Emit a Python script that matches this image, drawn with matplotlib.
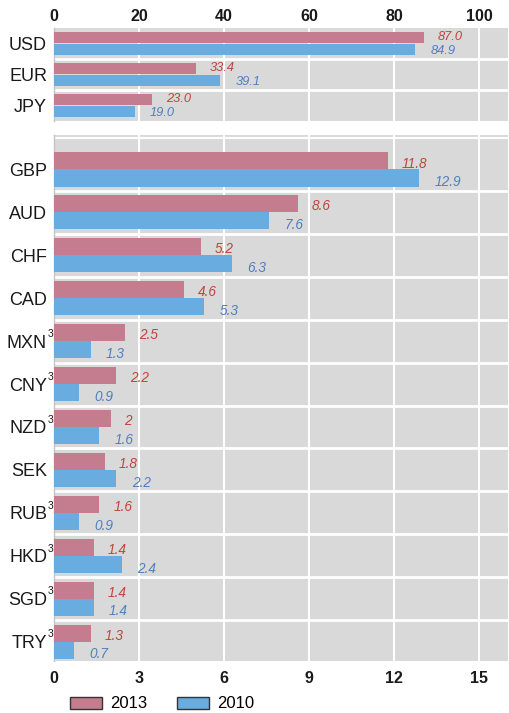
import matplotlib.pyplot as plt
import matplotlib.transforms as mtransforms

plt.rcParams['font.family'] = ['Liberation Sans', 'DejaVu Sans']

# major currencies (top panel)
top_cur = ['USD', 'EUR', 'JPY']
top_2013 = [87.0, 33.4, 23.0]
top_2010 = [84.9, 39.1, 19.0]
top_lab13 = ['87.0', '33.4', '23.0']
top_lab10 = ['84.9', '39.1', '19.0']

# other currencies (bottom panel)
bot_cur = ['GBP', 'AUD', 'CHF', 'CAD', 'MXN', 'CNY', 'NZD', 'SEK', 'RUB', 'HKD', 'SGD', 'TRY']
bot_2013 = [11.8, 8.6, 5.2, 4.6, 2.5, 2.2, 2, 1.8, 1.6, 1.4, 1.4, 1.3]
bot_2010 = [12.9, 7.6, 6.3, 5.3, 1.3, 0.9, 1.6, 2.2, 0.9, 2.4, 1.4, 0.7]
bot_lab13 = ['11.8', '8.6', '5.2', '4.6', '2.5', '2.2', '2', '1.8', '1.6', '1.4', '1.4', '1.3']
bot_lab10 = ['12.9', '7.6', '6.3', '5.3', '1.3', '0.9', '1.6', '2.2', '0.9', '2.4', '1.4', '0.7']
footnote = ['', '', '', '', '3', '3', '3', '', '3', '3', '3', '3']

top_ticks = [0, 20, 40, 60, 80, 100]
bot_ticks = [0, 3, 6, 9, 12, 15]

c13 = '#c47d8e'
c10 = '#69ace0'
t13 = '#c0443c'
t10 = '#4f7fbf'
bg = '#d9d9d9'

fig = plt.figure(figsize=(5.09, 7.13), dpi=100)
W, H = 509, 713
left, right = 54, 508


def make_ax(ytop, ybot):
    return fig.add_axes([left / W, (H - ybot) / H, (right - left) / W, (ybot - ytop) / H])


ax1 = make_ax(28, 121)
ax2 = make_ax(135, 661)


def draw(ax, cats, v13, v10, l13, l10, bh, off, xmax, ticks, ylim, dy13, dy10, fs):
    ax.set_facecolor(bg)
    ys = list(range(len(cats)))
    ax.barh([y - off for y in ys], v13, height=bh, color=c13, zorder=3)
    ax.barh([y + off for y in ys], v10, height=bh, color=c10, zorder=3)
    for y, a, b, la, lb in zip(ys, v13, v10, l13, l10):
        ax.annotate(la, (a, y - off), xytext=(10, dy13), textcoords='offset points',
                    ha='left', va='center', fontsize=fs, style='italic', color=t13, zorder=4)
        ax.annotate(lb, (b, y + off), xytext=(11, dy10), textcoords='offset points',
                    ha='left', va='center', fontsize=fs, style='italic', color=t10, zorder=4)
    ax.set_xlim(0, xmax)
    ax.set_ylim(*ylim)
    ax.set_xticks(ticks)
    ax.set_yticks(ys)
    ax.set_yticklabels(cats, fontsize=13, color='#1a1a1a')
    ax.tick_params(axis='y', length=0, pad=5)
    ax.grid(axis='x', color='white', linewidth=1.5, zorder=1)
    for k in range(len(cats) - 1):
        ax.axhline(k + 0.5, color='white', linewidth=2, zorder=2)
    for s in ['top', 'right', 'bottom']:
        ax.spines[s].set_visible(False)
    ax.spines['left'].set_color('#c4c4c4')
    ax.spines['left'].set_linewidth(1)


draw(ax1, top_cur, top_2013, top_2010, top_lab13, top_lab10, 0.37, 0.19, 106.8, top_ticks,
     (2.5, -0.5), 0.5, -1.5, 9.3)
ax1.xaxis.tick_top()
ax1.tick_params(axis='x', length=0, pad=3, labelsize=11.5, labelcolor='#1a1a1a')

draw(ax2, bot_cur, bot_2013, bot_2010, bot_lab13, bot_lab10, 0.4, 0.2, 16.03, bot_ticks,
     (11.45, -0.8), -2, -3, 9.8)
ax2.tick_params(axis='x', length=0, pad=7, labelsize=11.5, labelcolor='#1a1a1a')
ax2.axhline(-0.73, color='white', linewidth=1.5, zorder=2)

for ax in (ax1, ax2):
    for t in ax.get_xticklabels(which='both') + [tk.label2 for tk in ax.xaxis.get_major_ticks()]:
        t.set_fontweight('bold')

# footnote markers next to the currency codes
trans = mtransforms.blended_transform_factory(ax2.transAxes, ax2.transData)
for y, f in enumerate(footnote):
    if f:
        ax2.text(-0.002, y - 0.17, f, transform=trans, ha='right', va='center',
                 fontsize=7.5, color='#1a1a1a')

h13 = plt.Rectangle((0, 0), 1, 1, facecolor=c13, edgecolor='#333333', linewidth=1)
h10 = plt.Rectangle((0, 0), 1, 1, facecolor=c10, edgecolor='#333333', linewidth=1)
fig.legend([h13, h10], ['2013', '2010'], loc='center left', bbox_to_anchor=(70 / W, (H - 704) / H),
           ncol=2, frameon=False, fontsize=12, handlelength=1.9, handleheight=0.72,
           handletextpad=0.5, columnspacing=1.8, borderaxespad=0, borderpad=0)

fig.savefig('out.png', dpi=100)
